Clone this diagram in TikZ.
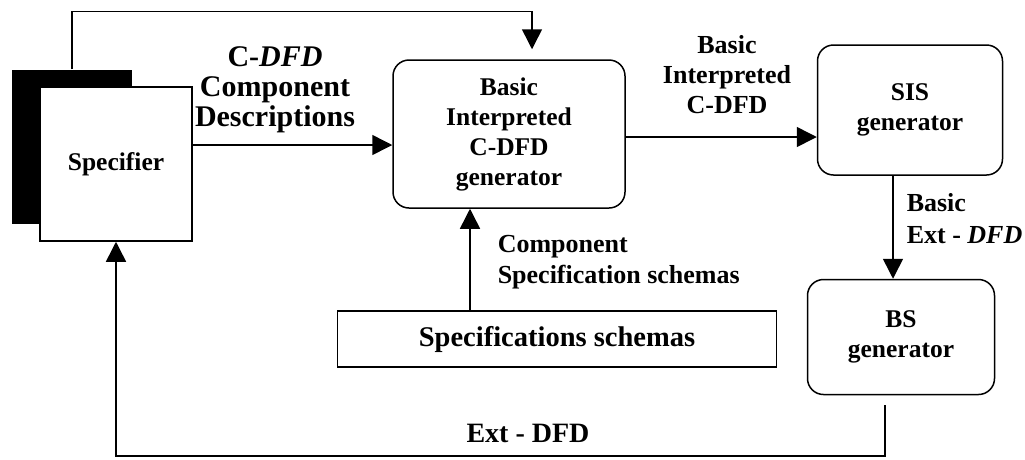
\documentclass[tikz,border=0pt]{standalone}
\usepackage{fontspec}
\setmainfont{Liberation Serif}
\usetikzlibrary{arrows.meta}
\newcommand\dfdboxfont{\fontsize{25.5}{30}\selectfont\bfseries}
\begin{document}
\begin{tikzpicture}[x=1pt,y=-1pt,
  line width=1.5pt,
  arr/.style={-{Triangle[length=20pt,width=20pt]}},
  genbox/.style={draw,rounded corners=16pt,align=center,font=\dfdboxfont,inner sep=0pt},
  flatbox/.style={draw,fill=white,align=center,inner sep=0pt},
  flowlabel/.style={align=center,inner sep=0pt,font=\bfseries}
]
\useasboundingbox (0,0) rectangle (1025,459);

% user block with its drop shadow
\node[fill=black,minimum width=120pt,minimum height=154pt,inner sep=0pt] (shadow) at (72,147) {};
\node[flatbox,font=\dfdboxfont,minimum width=152pt,minimum height=154pt] (spec) at (116,164) {Specifier};

% generator blocks
\node[genbox,minimum width=232pt,minimum height=148pt] (bicg) at (509,134)
  {Basic\\Interpreted\\C-DFD\\generator};
\node[genbox,minimum width=185pt,minimum height=130pt] (sis) at (910,110)
  {SIS\\generator};
\node[genbox,minimum width=187pt,minimum height=115pt] (bs) at (901,337)
  {BS\\generator};

% schema repository
\node[flatbox,font=\fontsize{28.5}{32}\selectfont\bfseries,minimum width=439pt,minimum height=56pt] (specs) at (557,339)
  {Specifications schemas};

% helper coordinates for connector positions
\coordinate (ya) at (0,145);
\coordinate (yb) at (0,137);
\coordinate (xa) at (470,0);
\coordinate (xb) at (893,0);
\coordinate (xt) at (532,0);
\coordinate (ybot) at (0,456);
\coordinate (bsout) at ([xshift=-16pt,yshift=-10pt]bs.south);

% connectors
\draw[arr] (spec.east |- ya) -- (bicg.west |- ya);
\draw[arr] (bicg.east |- yb) -- (sis.west |- yb);
\draw[arr] (sis.south -| xb) -- (bs.north -| xb);
\draw[arr] (specs.north -| xa) -- (bicg.south -| xa);
\draw[arr,shorten >=10pt] (shadow.north) -- ++(0,-58) -| (bicg.north -| xt);
\draw[arr] (bsout) |- (spec.south |- ybot) -- (spec.south);

% flow labels
\node[flowlabel,font=\fontsize{30}{30}\selectfont\bfseries] (l1) at (275,90)
  {C-\textit{DFD}\\Component\\Descriptions};
\node[flowlabel,font=\fontsize{26}{30}\selectfont\bfseries] (l2) at (727,75)
  {Basic\\Interpreted\\C-DFD};
\node[flowlabel,align=left,anchor=west,font=\fontsize{26}{32}\selectfont\bfseries] (l3) at (906,219)
  {Basic\\Ext - \textit{DFD}};
\node[flowlabel,align=left,anchor=west,font=\fontsize{26}{31}\selectfont\bfseries] (l4) at (497,262)
  {Component\\Specification schemas};
\node[flowlabel,font=\fontsize{28}{30}\selectfont\bfseries] (l5) at (528,433)
  {Ext - DFD};
\end{tikzpicture}
\end{document}
